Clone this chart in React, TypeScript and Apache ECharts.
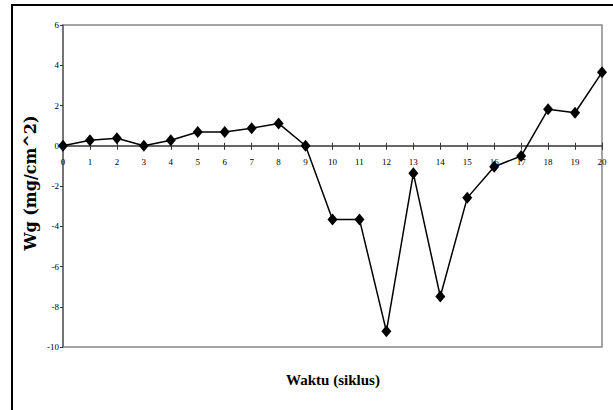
import React, { useEffect, useRef } from "react";
import * as echarts from "echarts";

const cycles = ["0","1","2","3","4","5","6","7","8","9","10","11","12","13","14","15","16","17","18","19","20"];
const wgValues = [0, 0.27, 0.37, 0, 0.27, 0.68, 0.68, 0.87, 1.11, 0, -3.66, -3.66, -9.22, -1.37, -7.49, -2.59, -1.04, -0.51, 1.81, 1.64, 3.65];
const yMin = -10;
const yMax = 6;
const yInterval = 2;
const xTitle = "Waktu (siklus)";
const yTitle = "Wg (mg/cm^2)";

const W = 613;
const H = 410;
const gridLeft = 63;
const gridTop = 25;
const gridRight = 11;
const gridBottom = 63;

export default function App() {
  const ref = useRef<HTMLDivElement>(null);
  useEffect(() => {
    if (!ref.current) return;
    document.documentElement.style.overflow = "hidden";
    document.body.style.overflow = "hidden";
    document.body.style.margin = "0";
    const chart = echarts.init(ref.current, null, { renderer: "svg" });
    const plotH = H - gridTop - gridBottom;
    const zeroOffset = -(plotH * (0 - yMin)) / (yMax - yMin);
    const baseX = {
      type: "category",
      data: cycles,
      boundaryGap: false,
      position: "bottom",
      offset: zeroOffset,
      splitLine: { show: false },
    };
    chart.setOption({
      animation: false,
      backgroundColor: "#ffffff",
      grid: {
        left: gridLeft,
        top: gridTop,
        right: gridRight,
        bottom: gridBottom,
        show: true,
        borderColor: "#888888",
        borderWidth: 1.5,
        backgroundColor: "transparent",
      },
      xAxis: [
        {
          ...baseX,
          axisLine: { onZero: false, lineStyle: { color: "#333333", width: 1.5 } },
          axisTick: { show: true, alignWithLabel: true, length: 4, lineStyle: { color: "#333333" } },
          axisLabel: {
            color: "#000000",
            fontFamily: "Liberation Serif",
            fontSize: 9,
            margin: 12,
            interval: 0,
          },
        },
        {
          ...baseX,
          axisLine: { show: false, onZero: false },
          axisTick: { show: true, inside: true, alignWithLabel: true, length: 3, lineStyle: { color: "#333333" } },
          axisLabel: { show: false },
        },
      ],
      yAxis: {
        type: "value",
        min: yMin,
        max: yMax,
        interval: yInterval,
        axisLine: { show: true, lineStyle: { color: "#666666", width: 1.5 } },
        axisTick: { show: true, length: 3, lineStyle: { color: "#333333" } },
        axisLabel: {
          color: "#000000",
          fontFamily: "Liberation Serif",
          fontSize: 9,
          margin: 4,
        },
        splitLine: { show: false },
      },
      series: [
        {
          type: "line",
          xAxisIndex: 0,
          data: wgValues,
          symbol: "diamond",
          symbolSize: [10, 12],
          showAllSymbol: true,
          itemStyle: { color: "#000000" },
          lineStyle: { color: "#000000", width: 1.5 },
        },
      ],
      graphic: [
        {
          type: "line",
          shape: { x1: 12, y1: 5, x2: 12, y2: H },
          style: { stroke: "#000000", lineWidth: 2 },
          silent: true,
        },
        {
          type: "line",
          shape: { x1: 11, y1: 5, x2: W, y2: 5 },
          style: { stroke: "#000000", lineWidth: 2 },
          silent: true,
        },
        {
          type: "text",
          x: 333,
          y: 380,
          style: {
            text: xTitle,
            font: "bold 15px 'Liberation Serif'",
            fill: "#000000",
            align: "center",
            verticalAlign: "middle",
          },
        },
        {
          type: "text",
          x: 30,
          y: 183,
          rotation: Math.PI / 2,
          style: {
            text: yTitle,
            font: "bold 16px 'DejaVu Serif'",
            fill: "#000000",
            align: "center",
            verticalAlign: "middle",
          },
        },
      ],
    });
    return () => chart.dispose();
  }, []);
  return (
    <div
      ref={ref}
      style={{ position: "fixed", left: 0, top: 0, width: W, height: H }}
    />
  );
}
